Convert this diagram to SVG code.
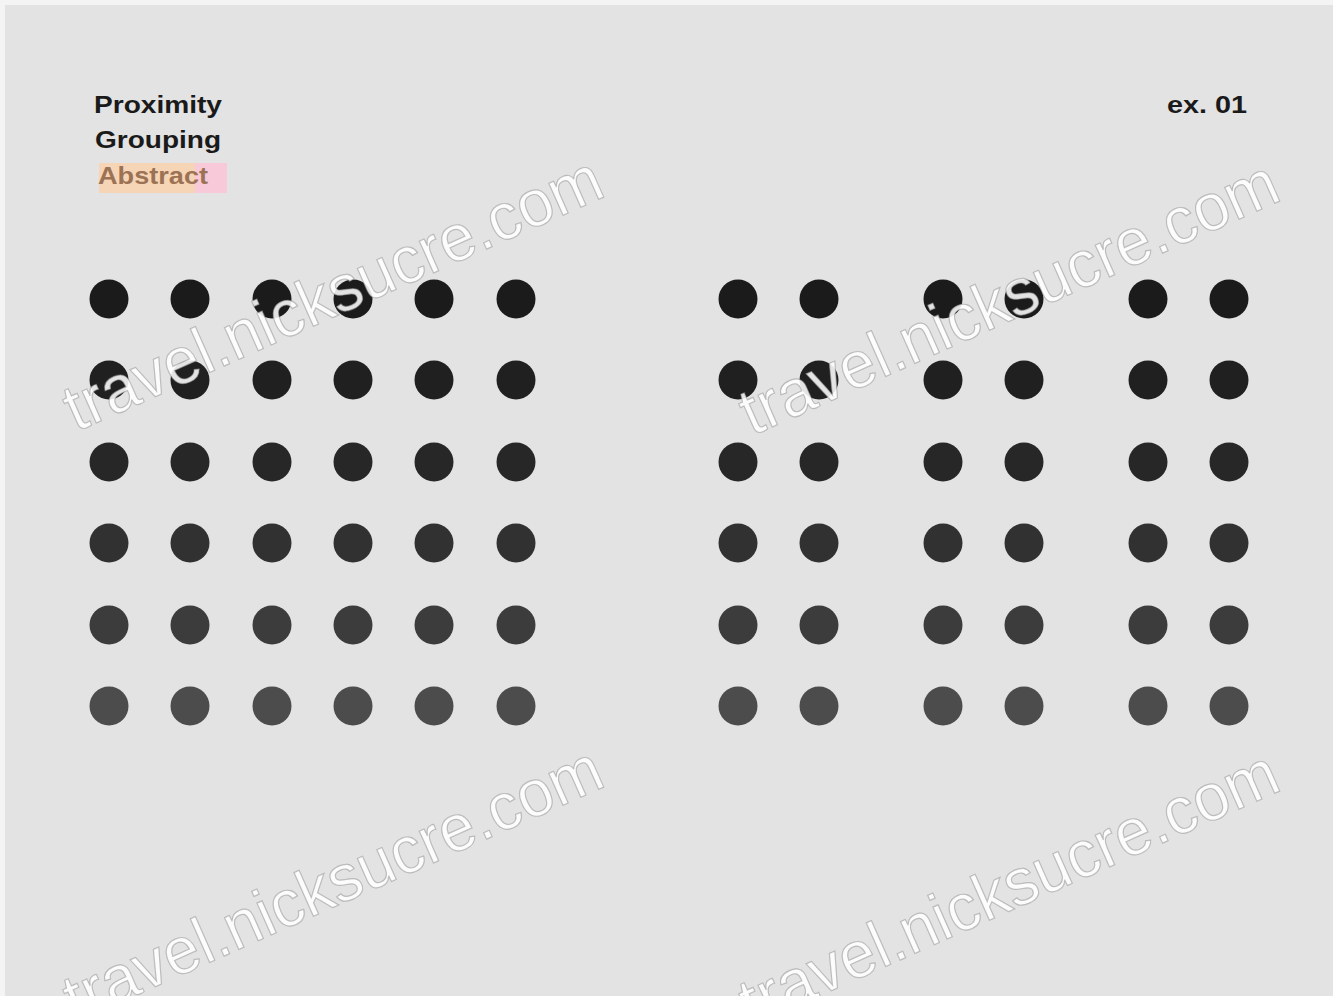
<svg xmlns="http://www.w3.org/2000/svg" width="1333" height="996" viewBox="0 0 1333 996">
  <defs>
    <style>
      .lbl { font-family: "Liberation Sans", Arial, sans-serif; font-weight: bold; font-size: 24px; fill: #1a1a1a; }
      .wm { font-family: "Liberation Sans", Arial, sans-serif; font-size: 66px; fill: #ffffff; fill-opacity: 0.88; stroke: #8a8a8a; stroke-opacity: 0.5; stroke-width: 1.2; }
      .r1 { fill: #1b1b1b; }
      .r2 { fill: #202020; }
      .r3 { fill: #272727; }
      .r4 { fill: #313131; }
      .r5 { fill: #3c3c3c; }
      .r6 { fill: #4c4c4c; }
    </style>
  </defs>
  <rect x="0" y="0" width="1333" height="996" fill="#f4f4f4"/>
  <rect x="5" y="5" width="1328" height="991" fill="#e3e3e3"/>

  <g id="labels">
    <text class="lbl" x="94" y="113" textLength="128" lengthAdjust="spacingAndGlyphs">Proximity</text>
    <text class="lbl" x="95" y="148" textLength="126" lengthAdjust="spacingAndGlyphs">Grouping</text>
    <rect x="99" y="163" width="96" height="30" fill="#f6d4b6"/>
    <rect x="195" y="163" width="32" height="30" fill="#f8c9d9"/>
    <text class="lbl" x="98" y="184" textLength="110" lengthAdjust="spacingAndGlyphs" style="fill:#9c7254">Abstract</text>
    <text class="lbl" x="1167" y="113" textLength="80" lengthAdjust="spacingAndGlyphs">ex. 01</text>
  </g>

  <g id="grid-left">
    <g class="r1"><circle cx="109" cy="299" r="19.5"/><circle cx="190" cy="299" r="19.5"/><circle cx="272" cy="299" r="19.5"/><circle cx="353" cy="299" r="19.5"/><circle cx="434" cy="299" r="19.5"/><circle cx="516" cy="299" r="19.5"/></g>
    <g class="r2"><circle cx="109" cy="380" r="19.5"/><circle cx="190" cy="380" r="19.5"/><circle cx="272" cy="380" r="19.5"/><circle cx="353" cy="380" r="19.5"/><circle cx="434" cy="380" r="19.5"/><circle cx="516" cy="380" r="19.5"/></g>
    <g class="r3"><circle cx="109" cy="462" r="19.5"/><circle cx="190" cy="462" r="19.5"/><circle cx="272" cy="462" r="19.5"/><circle cx="353" cy="462" r="19.5"/><circle cx="434" cy="462" r="19.5"/><circle cx="516" cy="462" r="19.5"/></g>
    <g class="r4"><circle cx="109" cy="543" r="19.5"/><circle cx="190" cy="543" r="19.5"/><circle cx="272" cy="543" r="19.5"/><circle cx="353" cy="543" r="19.5"/><circle cx="434" cy="543" r="19.5"/><circle cx="516" cy="543" r="19.5"/></g>
    <g class="r5"><circle cx="109" cy="625" r="19.5"/><circle cx="190" cy="625" r="19.5"/><circle cx="272" cy="625" r="19.5"/><circle cx="353" cy="625" r="19.5"/><circle cx="434" cy="625" r="19.5"/><circle cx="516" cy="625" r="19.5"/></g>
    <g class="r6"><circle cx="109" cy="706" r="19.5"/><circle cx="190" cy="706" r="19.5"/><circle cx="272" cy="706" r="19.5"/><circle cx="353" cy="706" r="19.5"/><circle cx="434" cy="706" r="19.5"/><circle cx="516" cy="706" r="19.5"/></g>
  </g>

  <g id="grid-right">
    <g class="r1"><circle cx="738" cy="299" r="19.5"/><circle cx="819" cy="299" r="19.5"/><circle cx="943" cy="299" r="19.5"/><circle cx="1024" cy="299" r="19.5"/><circle cx="1148" cy="299" r="19.5"/><circle cx="1229" cy="299" r="19.5"/></g>
    <g class="r2"><circle cx="738" cy="380" r="19.5"/><circle cx="819" cy="380" r="19.5"/><circle cx="943" cy="380" r="19.5"/><circle cx="1024" cy="380" r="19.5"/><circle cx="1148" cy="380" r="19.5"/><circle cx="1229" cy="380" r="19.5"/></g>
    <g class="r3"><circle cx="738" cy="462" r="19.5"/><circle cx="819" cy="462" r="19.5"/><circle cx="943" cy="462" r="19.5"/><circle cx="1024" cy="462" r="19.5"/><circle cx="1148" cy="462" r="19.5"/><circle cx="1229" cy="462" r="19.5"/></g>
    <g class="r4"><circle cx="738" cy="543" r="19.5"/><circle cx="819" cy="543" r="19.5"/><circle cx="943" cy="543" r="19.5"/><circle cx="1024" cy="543" r="19.5"/><circle cx="1148" cy="543" r="19.5"/><circle cx="1229" cy="543" r="19.5"/></g>
    <g class="r5"><circle cx="738" cy="625" r="19.5"/><circle cx="819" cy="625" r="19.5"/><circle cx="943" cy="625" r="19.5"/><circle cx="1024" cy="625" r="19.5"/><circle cx="1148" cy="625" r="19.5"/><circle cx="1229" cy="625" r="19.5"/></g>
    <g class="r6"><circle cx="738" cy="706" r="19.5"/><circle cx="819" cy="706" r="19.5"/><circle cx="943" cy="706" r="19.5"/><circle cx="1024" cy="706" r="19.5"/><circle cx="1148" cy="706" r="19.5"/><circle cx="1229" cy="706" r="19.5"/></g>
  </g>

  <g id="watermarks">
    <text class="wm" transform="translate(76 432) rotate(-24)" textLength="582" lengthAdjust="spacingAndGlyphs">travel.nicksucre.com</text>
    <text class="wm" transform="translate(752 436) rotate(-24)" textLength="582" lengthAdjust="spacingAndGlyphs">travel.nicksucre.com</text>
    <text class="wm" transform="translate(76 1022) rotate(-24)" textLength="582" lengthAdjust="spacingAndGlyphs">travel.nicksucre.com</text>
    <text class="wm" transform="translate(752 1026) rotate(-24)" textLength="582" lengthAdjust="spacingAndGlyphs">travel.nicksucre.com</text>
  </g>
</svg>
